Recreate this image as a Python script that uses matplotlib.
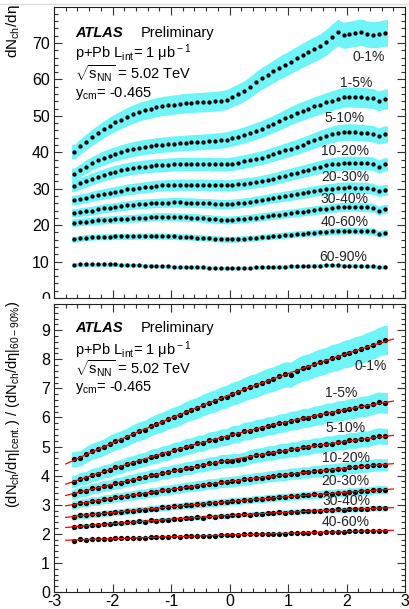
import numpy as np
import matplotlib
matplotlib.use('Agg')
import matplotlib.pyplot as plt
from matplotlib.patches import Rectangle
from matplotlib.lines import Line2D
from matplotlib.ticker import MultipleLocator

plt.rcParams['font.family'] = ['Liberation Sans', 'DejaVu Sans']
plt.rcParams['mathtext.fontset'] = 'custom'
plt.rcParams['mathtext.rm'] = 'Liberation Sans'
plt.rcParams['mathtext.it'] = 'Liberation Sans:italic'
plt.rcParams['mathtext.bf'] = 'Liberation Sans:bold'
plt.rcParams['axes.unicode_minus'] = False

# pseudorapidity bin centres
eta = [-2.65, -2.55, -2.45, -2.35, -2.25, -2.15, -2.05, -1.95, -1.85,
       -1.75, -1.65, -1.55, -1.45, -1.35, -1.25, -1.15, -1.05, -0.95,
       -0.85, -0.75, -0.65, -0.55, -0.45, -0.35, -0.25, -0.15, -0.05,
       0.05, 0.15, 0.25, 0.35, 0.45, 0.55, 0.65, 0.75, 0.85,
       0.95, 1.05, 1.15, 1.25, 1.35, 1.45, 1.55, 1.65, 1.75,
       1.85, 1.95, 2.05, 2.15, 2.25, 2.35, 2.45, 2.55, 2.65]

centralities = ['0-1%', '1-5%', '5-10%', '10-20%', '20-30%', '30-40%', '40-60%', '60-90%']

# dNch/deta per centrality
dn_0_1 = [40.2, 41.6, 42.9, 44.1, 45.2, 46.3, 47.3, 48.2, 49.0,
          49.8, 50.5, 51.1, 51.6, 52.0, 52.4, 52.7, 52.9, 53.1,
          53.3, 53.5, 53.6, 53.7, 53.8, 53.9, 54.0, 54.2, 54.5,
          55.3, 56.0, 56.8, 57.9, 59.2, 60.3, 61.2, 62.2, 63.2,
          64.0, 64.9, 65.8, 66.7, 67.5, 68.3, 69.1, 70.2, 71.6,
          72.9, 72.1, 72.4, 72.7, 73.0, 72.5, 72.3, 72.4, 72.8]
dn_1_5 = [34.0, 35.1, 36.1, 37.0, 37.8, 38.5, 39.1, 39.6, 40.1,
          40.5, 40.9, 41.2, 41.5, 41.7, 41.9, 42.1, 42.2, 42.4,
          42.5, 42.6, 42.7, 42.8, 42.9, 43.0, 43.1, 43.3, 43.5,
          43.9, 44.3, 44.8, 45.3, 45.9, 46.4, 47.1, 47.8, 48.5,
          49.3, 50.1, 50.8, 51.4, 52.0, 52.6, 53.1, 53.7, 54.2,
          54.7, 55.1, 55.2, 55.1, 55.1, 54.9, 54.8, 54.1, 54.6]
dn_5_10 = [30.8, 31.5, 32.1, 32.7, 33.3, 33.8, 34.3, 34.7, 35.1,
           35.4, 35.7, 35.9, 36.1, 36.3, 36.4, 36.5, 36.6, 36.7,
           36.7, 36.8, 36.8, 36.8, 36.8, 36.8, 36.7, 36.7, 36.7,
           36.9, 37.2, 37.5, 37.8, 38.2, 38.5, 39.0, 39.5, 40.0,
           40.5, 41.0, 41.5, 42.1, 42.7, 43.3, 43.9, 44.4, 44.9,
           45.3, 45.5, 45.6, 45.5, 45.4, 45.3, 45.1, 44.5, 45.0]
dn_10_20 = [26.9, 27.2, 27.5, 27.9, 28.3, 28.6, 28.9, 29.2, 29.5,
            29.8, 30.0, 30.2, 30.4, 30.6, 30.8, 30.9, 31.0, 31.0,
            31.1, 31.1, 31.1, 31.1, 31.1, 31.0, 31.0, 31.0, 30.9,
            31.0, 31.2, 31.4, 31.6, 31.8, 32.1, 32.4, 32.8, 33.2,
            33.6, 34.0, 34.4, 34.8, 35.2, 35.6, 36.0, 36.4, 36.7,
            36.9, 37.0, 37.1, 37.1, 37.0, 37.0, 36.9, 36.1, 36.7]
dn_20_30 = [23.4, 23.6, 23.8, 24.0, 24.3, 24.6, 24.8, 25.0, 25.2,
            25.4, 25.6, 25.8, 25.9, 26.0, 26.1, 26.2, 26.2, 26.3,
            26.3, 26.2, 26.2, 26.1, 26.0, 26.0, 25.9, 25.8, 25.8,
            25.9, 26.0, 26.2, 26.4, 26.7, 26.9, 27.2, 27.5, 27.7,
            28.0, 28.2, 28.5, 28.8, 29.1, 29.4, 29.6, 29.8, 30.0,
            30.2, 30.3, 30.4, 30.3, 30.3, 30.2, 30.0, 29.3, 29.7]
dn_30_40 = [20.7, 20.9, 21.0, 21.1, 21.3, 21.4, 21.5, 21.6, 21.7,
            21.8, 21.9, 22.0, 22.1, 22.2, 22.3, 22.3, 22.3, 22.3,
            22.2, 22.2, 22.1, 22.0, 21.9, 21.8, 21.6, 21.5, 21.4,
            21.5, 21.6, 21.8, 21.9, 22.1, 22.3, 22.5, 22.7, 22.9,
            23.1, 23.3, 23.5, 23.7, 23.9, 24.1, 24.3, 24.5, 24.7,
            24.9, 25.0, 25.1, 25.1, 25.0, 24.9, 24.8, 24.0, 24.5]
dn_40_60 = [16.1, 16.4, 16.6, 16.7, 16.8, 16.8, 16.8, 16.9, 16.9,
            16.9, 16.9, 17.0, 17.0, 17.0, 17.0, 17.0, 16.9, 16.9,
            16.8, 16.8, 16.7, 16.6, 16.5, 16.4, 16.3, 16.2, 16.1,
            16.1, 16.2, 16.3, 16.4, 16.5, 16.7, 16.8, 17.0, 17.1,
            17.3, 17.4, 17.6, 17.7, 17.8, 17.9, 18.0, 18.1, 18.3,
            18.4, 18.4, 18.5, 18.5, 18.4, 18.4, 18.3, 17.6, 17.9]
dn_60_90 = [9.1, 9.2, 9.2, 9.2, 9.2, 9.2, 9.2, 9.2, 9.1,
            9.1, 9.0, 9.0, 8.9, 8.9, 8.8, 8.7, 8.7, 8.6,
            8.6, 8.5, 8.5, 8.4, 8.4, 8.3, 8.3, 8.2, 8.2,
            8.2, 8.2, 8.3, 8.3, 8.4, 8.4, 8.5, 8.5, 8.6,
            8.6, 8.7, 8.7, 8.8, 8.8, 8.9, 8.9, 9.0, 9.0,
            9.0, 8.9, 8.9, 8.9, 8.8, 8.8, 8.7, 8.5, 8.6]

# ratio to 60-90%
r_0_1 = [4.56, 4.60, 4.73, 4.84, 4.90, 4.98, 5.09, 5.18, 5.24,
         5.33, 5.44, 5.52, 5.58, 5.69, 5.78, 5.84, 5.94, 6.01,
         6.08, 6.19, 6.27, 6.33, 6.43, 6.51, 6.57, 6.66, 6.72,
         6.82, 6.87, 6.97, 7.05, 7.10, 7.19, 7.27, 7.32, 7.41,
         7.48, 7.47, 7.60, 7.70, 7.74, 7.83, 7.90, 7.95, 8.04,
         8.08, 8.17, 8.21, 8.30, 8.34, 8.43, 8.50, 8.60, 8.66]
r_1_5 = [3.79, 3.90, 3.93, 4.03, 4.06, 4.15, 4.18, 4.28, 4.31,
         4.41, 4.44, 4.52, 4.55, 4.65, 4.68, 4.76, 4.79, 4.88,
         4.91, 5.00, 5.02, 5.11, 5.12, 5.22, 5.24, 5.31, 5.33,
         5.42, 5.44, 5.53, 5.55, 5.62, 5.64, 5.71, 5.73, 5.80,
         5.82, 5.89, 5.91, 5.98, 5.99, 6.06, 6.08, 6.15, 6.16,
         6.23, 6.24, 6.30, 6.31, 6.38, 6.39, 6.46, 6.52, 6.50]
r_5_10 = [3.36, 3.46, 3.47, 3.56, 3.58, 3.65, 3.66, 3.74, 3.76,
          3.83, 3.85, 3.92, 3.94, 4.01, 4.02, 4.10, 4.11, 4.18,
          4.19, 4.26, 4.27, 4.34, 4.35, 4.42, 4.43, 4.49, 4.50,
          4.52, 4.53, 4.58, 4.65, 4.70, 4.72, 4.78, 4.78, 4.85,
          4.85, 4.91, 4.91, 4.98, 4.98, 5.04, 5.04, 5.10, 5.10,
          5.16, 5.15, 5.21, 5.21, 5.27, 5.26, 5.32, 5.37, 5.35]
r_10_20 = [2.99, 3.06, 3.07, 3.13, 3.13, 3.19, 3.20, 3.25, 3.26,
           3.31, 3.32, 3.37, 3.38, 3.43, 3.44, 3.49, 3.50, 3.55,
           3.56, 3.61, 3.62, 3.66, 3.67, 3.72, 3.72, 3.77, 3.78,
           3.80, 3.83, 3.87, 3.88, 3.92, 3.93, 3.97, 3.98, 4.02,
           4.02, 4.07, 4.07, 4.11, 4.11, 4.16, 4.16, 4.20, 4.20,
           4.24, 4.24, 4.28, 4.28, 4.32, 4.32, 4.36, 4.38, 4.37]
r_20_30 = [2.58, 2.63, 2.63, 2.67, 2.67, 2.71, 2.71, 2.75, 2.75,
           2.79, 2.79, 2.83, 2.83, 2.87, 2.87, 2.91, 2.91, 2.95,
           2.95, 2.99, 2.98, 3.02, 3.02, 3.06, 3.06, 3.09, 3.09,
           3.13, 3.13, 3.16, 3.16, 3.20, 3.19, 3.23, 3.23, 3.26,
           3.26, 3.29, 3.29, 3.33, 3.32, 3.36, 3.35, 3.39, 3.38,
           3.42, 3.41, 3.45, 3.44, 3.48, 3.47, 3.50, 3.52, 3.51]
r_30_40 = [2.22, 2.27, 2.27, 2.30, 2.30, 2.34, 2.33, 2.37, 2.36,
           2.40, 2.39, 2.43, 2.42, 2.46, 2.45, 2.49, 2.48, 2.52,
           2.51, 2.54, 2.54, 2.57, 2.56, 2.60, 2.59, 2.62, 2.61,
           2.65, 2.64, 2.67, 2.66, 2.69, 2.68, 2.71, 2.71, 2.74,
           2.73, 2.76, 2.75, 2.78, 2.77, 2.80, 2.79, 2.82, 2.81,
           2.84, 2.82, 2.85, 2.84, 2.87, 2.86, 2.88, 2.89, 2.88]
r_40_60 = [1.76, 1.81, 1.80, 1.82, 1.82, 1.83, 1.83, 1.84, 1.84,
           1.86, 1.85, 1.87, 1.87, 1.88, 1.88, 1.89, 1.89, 1.91,
           1.90, 1.92, 1.91, 1.93, 1.93, 1.94, 1.94, 1.95, 1.95,
           1.97, 1.96, 1.98, 1.98, 1.99, 1.99, 2.00, 2.00, 2.01,
           2.01, 2.03, 2.02, 2.04, 2.03, 2.05, 2.04, 2.06, 2.06,
           2.07, 2.07, 2.08, 2.08, 2.09, 2.10, 2.10, 2.11, 2.11]

# relative systematic uncertainty (band half width)
syst_top = [0.05, 0.05, 0.05, 0.05, 0.05, 0.05, 0.05, 0.055]
syst_ratio = [0.058, 0.055, 0.052, 0.048, 0.04, 0.033, 0.015]

# quadratic fits to the ratios: c2, c1, c0
fit_c2 = [-0.0282, -0.0313, -0.0228, -0.0144, -0.0072, -0.0091, -0.0013]
fit_c1 = [0.767, 0.510, 0.369, 0.259, 0.174, 0.122, 0.061]
fit_c0 = [6.77, 5.38, 4.53, 3.80, 3.11, 2.63, 1.96]

top_series = [dn_0_1, dn_1_5, dn_5_10, dn_10_20, dn_20_30, dn_30_40, dn_40_60, dn_60_90]
ratio_series = [r_0_1, r_1_5, r_5_10, r_10_20, r_20_30, r_30_40, r_40_60]

# label positions (data coords)
lab_top_x = [2.11, 1.89, 1.63, 1.56, 1.56, 1.56, 1.56, 1.53]
lab_top_y = [66.2, 59.0, 49.4, 40.4, 33.3, 27.1, 21.0, 11.3]
lab_bot_x = [2.13, 1.64, 1.64, 1.58, 1.57, 1.58, 1.58]
lab_bot_y = [7.77, 6.85, 5.65, 4.62, 3.81, 3.13, 2.40]

band_col = '#6ff5f7'
W, H = 409, 609

fig = plt.figure(figsize=(W / 100, H / 100), dpi=100)
ax1 = fig.add_axes([54 / W, 1 - 298 / H, 351 / W, 291 / H])
ax2 = fig.add_axes([54 / W, 1 - 592 / H, 351 / W, 288 / H])

x = np.array(eta)
xe = np.concatenate([[x[0] - 0.05], x, [x[-1] + 0.05]])


def band(ax, y, frac):
    y = np.array(y)
    ye = np.concatenate([[y[0]], y, [y[-1]]])
    ax.fill_between(xe, ye * (1 - frac), ye * (1 + frac), color=band_col, lw=0, zorder=1)


for vals, s in zip(top_series, syst_top):
    band(ax1, vals, s)
    ax1.plot(x, vals, 'o', color='black', ms=3.1, mew=0, zorder=3)

xf = np.linspace(-2.8, 2.8, 100)
for i, vals in enumerate(ratio_series):
    band(ax2, vals, syst_ratio[i])
    ax2.plot(x, vals, 'o', color='black', ms=3.8, mew=0, zorder=3)
    ax2.plot(xf, np.polyval([fit_c2[i], fit_c1[i], fit_c0[i]], xf), color='red', lw=0.9, zorder=4)

for ax, ymax, ymaj, ymin in [(ax1, 79.9, 10, 2), (ax2, 9.9, 1, 0.2)]:
    ax.set_xlim(-3, 3)
    ax.set_ylim(0, ymax)
    ax.xaxis.set_major_locator(MultipleLocator(1))
    ax.xaxis.set_minor_locator(MultipleLocator(0.2))
    ax.yaxis.set_major_locator(MultipleLocator(ymaj))
    ax.yaxis.set_minor_locator(MultipleLocator(ymin))
    ax.tick_params(which='both', direction='in', top=True, right=True, width=0.8, color='#333333')
    ax.tick_params(which='major', length=6)
    ax.tick_params(which='minor', length=3)
    ax.tick_params(labelsize=11.5)
    ax.tick_params(axis='x', pad=1.5)
    ax.tick_params(axis='y', pad=3)
    for sp in ax.spines.values():
        sp.set_linewidth(0.8)
        sp.set_color('#222222')

ax1.tick_params(labelbottom=False)

for i, c in enumerate(centralities):
    ax1.text(lab_top_x[i], lab_top_y[i], c, fontsize=10, ha='left', va='center', color='#222222')
for i, c in enumerate(centralities[:-1]):
    ax2.text(lab_bot_x[i], lab_bot_y[i], c, fontsize=10, ha='left', va='center', color='#222222')

# header text
for ax, ys in [(ax1, [0.91, 0.841, 0.772, 0.703]), (ax2, [0.918, 0.840, 0.777, 0.711])]:
    ax.text(0.06, ys[0], 'ATLAS', transform=ax.transAxes, fontsize=10.5,
            fontweight='bold', fontstyle='italic', va='center')
    ax.text(0.248, ys[0], 'Preliminary', transform=ax.transAxes, fontsize=10.5, va='center')
    ax.text(0.06, ys[1], r'p+Pb L$_{\rm int}$= 1 μb$^{\rm -1}$', transform=ax.transAxes,
            fontsize=10.5, va='center')
    ax.text(0.06, ys[2], r'$\sqrt{\rm s_{NN}}$ = 5.02 TeV', transform=ax.transAxes,
            fontsize=10.5, va='center')
    ax.text(0.06, ys[3], r'y$_{\rm cm}$= -0.465', transform=ax.transAxes,
            fontsize=10.5, va='center')

fig.text(13 / W, 1 - 4 / H, r'dN$_{\rm ch}$/dη', rotation=90, ha='center', va='top', fontsize=11)
fig.text(13 / W, 1 - 301 / H, r'(dN$_{\rm ch}$/dη|$_{\rm cent.}$) / (dN$_{\rm ch}$/dη|$_{\rm 60-90\%}$)',
         rotation=90, ha='center', va='top', fontsize=10.5,
         family=['Liberation Sans Narrow', 'Liberation Sans', 'DejaVu Sans'])

# hide lower half of top panel's "0" under the lower pad
fig.add_artist(Rectangle((28 / W, 1 - 303 / H), 24 / W, 4 / H, transform=fig.transFigure,
                         color='white', zorder=10))
fig.add_artist(Line2D([0, 1], [1 - 4 / H, 1 - 4 / H], transform=fig.transFigure,
                      color='#dcdcdc', lw=1))

fig.savefig('out.png', dpi=100)
